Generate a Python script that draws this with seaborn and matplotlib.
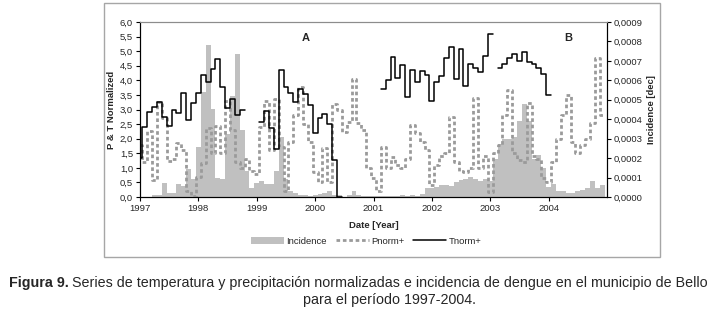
import numpy as np
import pandas as pd
import matplotlib
matplotlib.use("Agg")
import matplotlib.pyplot as plt
import matplotlib.ticker as mticker
from matplotlib.patches import Patch, Rectangle
from matplotlib.lines import Line2D
import seaborn as sns

# ── Data (monthly, Jan 1997 .. Dec 2004) ───────────────────────────────────────
YEARS = list(range(1997, 2005))
MONTHS = np.arange(96)

# dengue incidence [dec]
INCIDENCE = [
    0.0, 0.0, 0.0, 0.000009, 0.000009, 0.000072, 0.000018, 0.000023, 0.000066, 0.000057, 0.000146, 0.000093,
    0.000255, 0.00054, 0.00078, 0.00045, 0.000099, 0.000095, 0.000323, 0.00052, 0.000735, 0.000345, 0.000132, 0.000048,
    0.000072, 0.000081, 0.000068, 0.000065, 0.000132, 0.000308, 0.000093, 0.000032, 0.000018, 0.000012, 0.000009, 0.000006,
    0.000009, 0.000015, 0.000018, 0.000033, 0.000012, 0.000008, 0.0, 0.000008, 0.000033, 0.000008, 0.000003, 0.000003,
    0.000005, 0.000003, 0.000003, 0.000005, 0.000006, 0.000006, 0.000008, 0.000006, 0.000008, 0.000006, 0.000014, 0.000045,
    0.000045, 0.000053, 0.00006, 0.000063, 0.000057, 0.000075, 0.000086, 0.00009, 0.000102, 0.00009, 0.000081, 0.00009,
    0.000083, 0.000195, 0.00027, 0.0003, 0.0003, 0.000308, 0.00039, 0.00048, 0.00039, 0.000195, 0.000218, 0.00015,
    0.000053, 0.000068, 0.00003, 0.00003, 0.000023, 0.000023, 0.00003, 0.000038, 0.000045, 0.000083, 0.000045, 0.00006,
]

# normalised precipitation
PNORM = [
    1.80, 1.20, 2.25, 0.60, 3.25, 2.70, 1.25, 1.30, 1.85, 1.60, 0.20, 0.05,
    0.70, 1.15, 2.35, 1.50, 2.45, 1.50, 3.30, 2.30, 1.20, 1.00, 1.30, 0.90,
    0.80, 2.40, 3.30, 1.60, 3.35, 1.70, 0.20, 1.90, 2.80, 3.78, 2.50, 1.90,
    0.85, 0.52, 1.67, 0.50, 3.20, 2.98, 2.24, 2.58, 4.05, 2.53, 2.30, 0.98,
    0.64, 0.20, 1.72, 1.00, 1.38, 1.10, 1.00, 1.30, 2.47, 2.20, 1.90, 1.60,
    0.41, 1.10, 1.40, 1.50, 2.75, 1.20, 0.90, 0.85, 1.00, 3.40, 1.00, 1.40,
    0.17, 1.50, 1.78, 2.80, 3.67, 1.50, 1.26, 1.20, 3.21, 1.40, 1.30, 0.64,
    0.52, 1.20, 2.00, 2.80, 3.50, 1.90, 1.50, 1.80, 2.00, 2.53, 4.75, 2.80,
]

# normalised temperature (gaps = no data)
nan = np.nan
TNORM = [
    1.35, 2.41, 2.90, 3.10, 3.27, 2.76, 2.44, 2.97, 2.87, 3.55, 2.64, 3.22,
    3.56, 4.17, 3.94, 4.39, 4.73, 3.77, 3.05, 3.36, 2.82, 3.00, nan, nan,
    nan, 2.56, 2.95, 2.36, 1.64, 4.37, 3.76, 3.55, 3.27, 3.72, 3.52, 3.16,
    2.18, 2.70, 2.84, 2.52, 1.27, 0.00, nan, nan, nan, nan, nan, nan,
    nan, nan, 3.70, 4.01, 4.79, 4.09, 4.52, 3.44, 4.35, 3.95, 4.32, 4.20,
    3.30, 3.93, 4.16, 4.75, 5.13, 4.05, 5.07, 3.80, 4.55, 4.41, 4.30, 4.85,
    5.58, nan, 4.41, 4.55, 4.75, 4.89, 4.66, 4.96, 4.62, 4.55, 4.44, 4.22,
    3.49, nan, nan, nan, nan, nan, nan, nan, nan, nan, nan, nan,
]

CAPTION_BOLD = "Figura 9."
CAPTION_1 = ("Series de temperatura y precipitación normalizadas e incidencia "
             "de dengue en el municipio de Bello")
CAPTION_2 = "para el período 1997-2004."

W, H = 714, 318
BAR_C = "#c0c0c0"
PN_C = "#9a9a9a"
DASH = (0, (1.3, 1.0))


def stair_frame(values):
    """Expand monthly values into full-month steps, one unit per unbroken run."""
    rows, block, prev_ok = [], 0, False
    for m, v in zip(MONTHS, values):
        ok = not np.isnan(v)
        if ok and not prev_ok:
            block += 1
        if ok:
            rows.append((m - 0.5, v, block))
            rows.append((m + 0.5, v, block))
        prev_ok = ok
    df = pd.DataFrame(rows, columns=["x", "y", "block"])
    df["x"] = df["x"].clip(0, 96)
    return df


def comma(fmt):
    return mticker.FuncFormatter(lambda v, _: fmt.format(v).replace(".", ","))


sns.set_style("white")
plt.rcParams["font.family"] = ["Liberation Sans", "DejaVu Sans"]

fig = plt.figure(figsize=(W / 100, H / 100), dpi=100)
fig.patches.append(Rectangle((104 / W, 1 - 257 / H), 556 / W, 254 / H,
                             transform=fig.transFigure, fill=False,
                             edgecolor="#a6a6a6", lw=1.0))

ax = fig.add_axes([140 / W, 1 - 197 / H, 467 / W, 175 / H])
ax2 = ax.twinx()

# bars on the right-hand scale, lines on top on the left-hand scale
ax2.bar(MONTHS, INCIDENCE, width=1.0, color=BAR_C, edgecolor="none", zorder=1)
ax.set_zorder(ax2.get_zorder() + 1)
ax.patch.set_visible(False)

sns.lineplot(data=stair_frame(PNORM), x="x", y="y", units="block", estimator=None,
             sort=False, color=PN_C, lw=2.0, linestyle=DASH, ax=ax)
sns.lineplot(data=stair_frame(TNORM), x="x", y="y", units="block", estimator=None,
             sort=False, color="black", lw=1.1, ax=ax)

ax.set_xlim(0, 96)
ax.set_ylim(0, 6)
ax2.set_ylim(0, 0.0009)

ax.set_xticks([12 * i for i in range(len(YEARS))])
ax.set_xticklabels([str(y) for y in YEARS])
ax.set_yticks(np.arange(0, 6.01, 0.5))
ax.yaxis.set_major_formatter(comma("{:.1f}"))
ax2.set_yticks(np.arange(0, 0.00091, 0.0001))
ax2.yaxis.set_major_formatter(comma("{:.4f}"))

for a in (ax, ax2):
    a.tick_params(axis="both", which="major", labelsize=6.8, length=3,
                  width=0.8, color="black", pad=2, direction="out")
    for s in a.spines.values():
        s.set_linewidth(0.8)
        s.set_color("black")
    a.spines["top"].set_color("#8c8c8c")
ax.tick_params(axis="y", left=True, right=False)
ax.tick_params(axis="x", bottom=True)
ax2.tick_params(axis="y", right=True)

ax.set_xlabel("Date [Year]", fontsize=6.8, fontweight="bold", labelpad=6)
ax.set_ylabel("P & T Normalized", fontsize=6.8, fontweight="bold", labelpad=3)
ax2.set_ylabel("Incidence [dec]", fontsize=6.8, fontweight="bold", labelpad=3)

ax.text(34, 5.45, "A", fontsize=8, fontweight="bold", ha="center", va="center")
ax.text(88, 5.45, "B", fontsize=8, fontweight="bold", ha="center", va="center")

handles = [Patch(facecolor=BAR_C, edgecolor="none", label="Incidence"),
           Line2D([], [], color=PN_C, lw=2.0, linestyle=DASH, label="Pnorm+"),
           Line2D([], [], color="black", lw=1.1, label="Tnorm+")]
fig.legend(handles=handles, loc="center", bbox_to_anchor=(366 / W, 1 - 241 / H),
           ncol=3, frameon=False, fontsize=6.8, handlelength=3.5,
           handletextpad=0.2, columnspacing=1.0, handleheight=0.7)

# caption: bold figure number followed by regular text, fitted to the page width
cap_font = ["Liberation Sans Narrow", "Liberation Sans", "DejaVu Sans"]
renderer = fig.canvas.get_renderer()
size = 11.0
left, target = 9, 694
t1 = fig.text(left / W, 1 - 283 / H, CAPTION_BOLD, fontsize=size, fontweight="bold",
              family=cap_font, ha="left", va="center")
t2 = fig.text(0, 1 - 283 / H, CAPTION_1, fontsize=size, family=cap_font,
              ha="left", va="center")
for _ in range(4):
    b1 = t1.get_window_extent(renderer)
    t2.set_x((b1.x1 + 3) / W)
    b2 = t2.get_window_extent(renderer)
    size *= target / (b2.x1 - b1.x0)
    t1.set_fontsize(size)
    t2.set_fontsize(size)
b1 = t1.get_window_extent(renderer)
t2.set_x((b1.x1 + 3) / W)
fig.text(390 / W, 1 - 300 / H, CAPTION_2, fontsize=size, family=cap_font,
         ha="center", va="center")

fig.savefig("out.png", dpi=100)
